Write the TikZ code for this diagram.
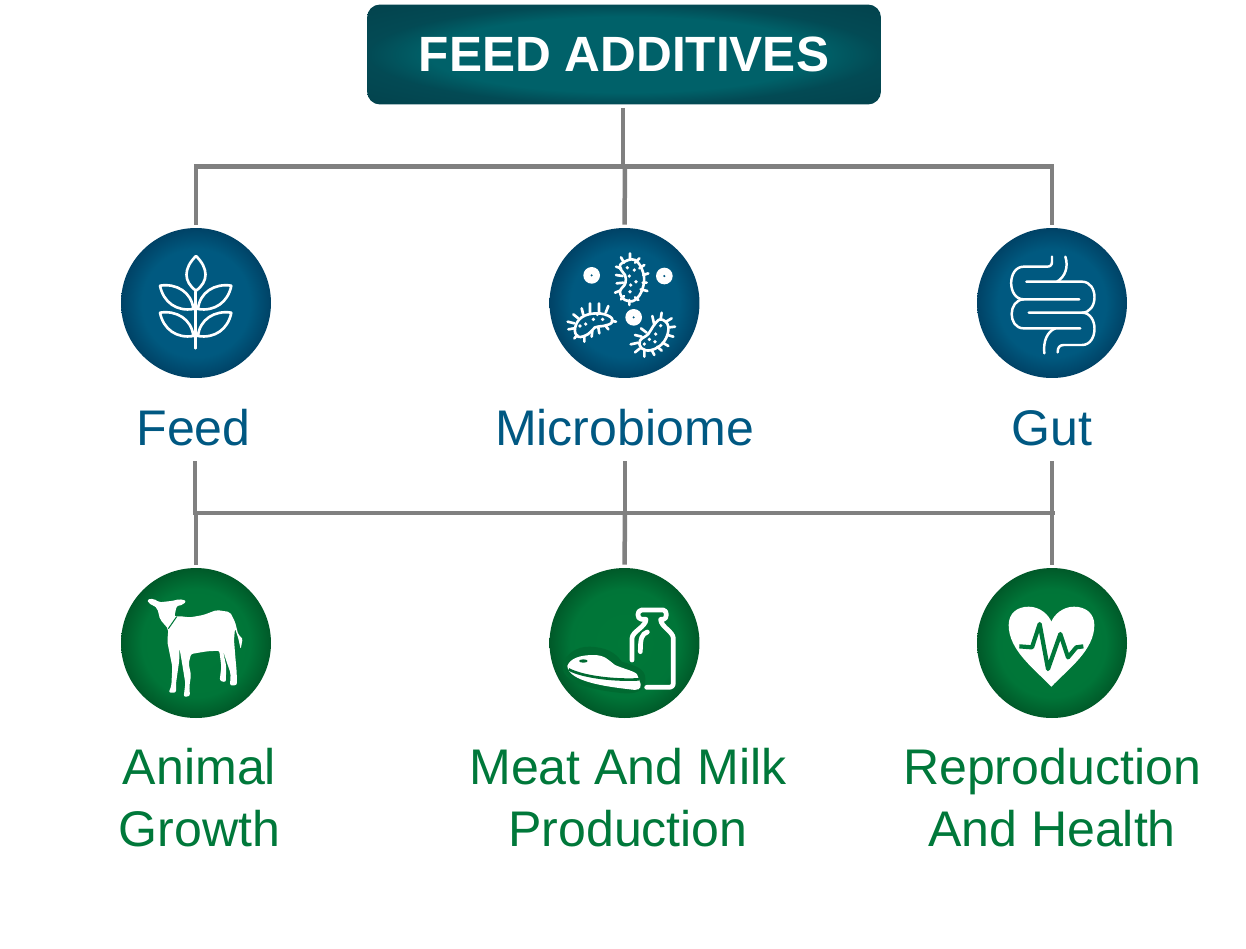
\documentclass[tikz,border=0pt]{standalone}
\usepackage{fontspec}
\setmainfont{Liberation Sans}
\definecolor{bluetext}{RGB}{0,88,130}
\definecolor{greentext}{RGB}{0,120,58}
\definecolor{branchgrey}{RGB}{128,128,128}
\definecolor{meathalo}{RGB}{0,106,49}
\pgfdeclareradialshading{bluedisc}{\pgfpoint{0bp}{0bp}}{rgb(0bp)=(0,.35,.5);rgb(18bp)=(0,.35,.5);rgb(25bp)=(0,.26,.4);rgb(50bp)=(0,.26,.4)}
\pgfdeclareradialshading{greendisc}{\pgfpoint{0bp}{0bp}}{rgb(0bp)=(0,.47,.22);rgb(18bp)=(0,.46,.22);rgb(25bp)=(0,.35,.16);rgb(50bp)=(0,.35,.16)}
\pgfdeclareradialshading{tealbox}{\pgfpoint{0bp}{0bp}}{rgb(0bp)=(0,.38,.41);rgb(19bp)=(0,.38,.41);rgb(25bp)=(.01,.29,.33);rgb(36bp)=(.01,.26,.3);rgb(50bp)=(.01,.26,.3)}
\tikzset{
    branch/.style={line width=0.09cm, branchgrey},
    titlebox/.style={rounded corners=0.26cm, shading=tealbox, minimum width=10.28cm, minimum height=2cm, inner sep=0, text=white, font=\fontsize{28.2}{33}\selectfont\bfseries},
    bluehub/.style={circle, shading=bluedisc, minimum size=3cm, inner sep=0},
    greenhub/.style={circle, shading=greendisc, minimum size=3cm, inner sep=0},
    bluelabel/.style={text=bluetext, inner sep=0, font=\fontsize{28.5}{35.3}\selectfont},
    greenlabel/.style={text=greentext, inner sep=0, align=center, font=\fontsize{28.5}{35.3}\selectfont},
    icon/.style={draw=white, line width=1.5pt, line cap=round, line join=round},
    thinicon/.style={draw=white, line width=1.4pt, line cap=round, line join=round},
}
\begin{document}
\begin{tikzpicture}[x=0.02cm, y=-0.02cm]
    \useasboundingbox (0,0) rectangle (1246,948);

    \node[titlebox] (additives) at (624,54.5) {FEED ADDITIVES};

    \node[bluehub] (feeddisc) at (196,303) {};
    \node[bluehub] (microbiomedisc) at (624.5,303) {};
    \node[bluehub] (gutdisc) at (1052,303) {};
    \node[greenhub] (growthdisc) at (196,643) {};
    \node[greenhub] (productiondisc) at (624.5,643) {};
    \node[greenhub] (healthdisc) at (1052,643) {};

    \node[bluelabel] (feedlabel) at (193.5,428) {Feed};
    \node[bluelabel] (microbiomelabel) at (624.5,428) {Microbiome};
    \node[bluelabel] (gutlabel) at (1052,428) {Gut};
    \node[greenlabel] (growthlabel) at (199.5,798) {Animal\\Growth};
    \node[greenlabel] (productionlabel) at (628,798) {Meat And Milk\\Production};
    \node[greenlabel] (healthlabel) at (1052,798) {Reproduction\\And Health};

    % upper tree
    \coordinate (topleft) at (196,166.5);
    \coordinate (topright) at (1052,166.5);
    \draw[branch] ([xshift=-0.045cm]topleft) -- ([xshift=0.045cm]topright);
    \draw[branch, shorten <=0.06cm] (additives.south -| 623,0) -- (623,166);
    \draw[branch, shorten >=0.06cm] (625,166) -- (microbiomedisc.north);
    \draw[branch, shorten >=0.06cm] (topleft) -- (feeddisc.north);
    \draw[branch, shorten >=0.06cm] (topright) -- (gutdisc.north);

    % lower tree
    \coordinate (lowleft) at (195,513);
    \coordinate (lowright) at (1053,513);
    \draw[branch] ([xshift=-0.045cm]lowleft) -- ([xshift=0.045cm]lowright);
    \draw[branch] (195,461) -- (lowleft);
    \draw[branch] (1052,461) -- (1052,513);
    \draw[branch] (625,461) -- (625,513);
    \draw[branch, shorten >=0.06cm] (196,513) -- (growthdisc.north);
    \draw[branch, shorten >=0.06cm] (625,513) -- (productiondisc.north);
    \draw[branch, shorten >=0.06cm] (1052,513) -- (healthdisc.north);

    % feed icon
    \begin{scope}[shift={(110,220)}, scale=1/3]
        \draw[icon] (258,108) .. controls (220,145) and (220,185) .. (258,212) .. controls (296,185) and (296,145) .. (258,108);
        \draw[icon] (257,215) -- (257,385);
        \foreach \y in {197,278} {
            \draw[icon] (150,\y) .. controls (200,\y-8) and (245,\y+20) .. (250,\y+70) .. controls (200,\y+78) and (160,\y+50) .. (150,\y);
            \draw[icon] (364,\y) .. controls (314,\y-8) and (269,\y+20) .. (264,\y+70) .. controls (314,\y+78) and (354,\y+50) .. (364,\y);
        }
    \end{scope}

    % microbiome icon
    \begin{scope}[shift={(540,220)}, scale=1/3]
        \foreach \x/\y in {155/166,373/168,281/292} {
            \fill[white] (\x,\y) circle (25);
            \fill[bluetext] (\x,\y) circle (3.5);
        }
        \draw[icon] plot[smooth cycle, tension=.7] coordinates {(248,128) (285,120) (310,160) (308,205) (285,240) (255,240) (240,215) (256,190) (255,165) (240,145)};
        \draw[icon] (270,100)--(270,118) (298,115)--(285,128) (313,135)--(298,145) (325,160)--(310,165) (320,188)--(308,188) (322,213)--(302,208) (295,240)--(285,232) (268,255)--(268,240) (243,238)--(252,228) (225,218)--(240,212) (230,190)--(250,188) (228,165)--(248,168) (228,140)--(243,145) (243,112)--(252,128);
        \draw[icon] plot[smooth cycle, tension=.7] coordinates {(105,325) (125,292) (170,280) (210,290) (215,308) (190,318) (165,322) (145,342) (115,350)};
        \draw[icon] (125,265)--(130,285) (150,250)--(150,278) (177,250)--(177,275) (205,258)--(197,278) (228,305)--(215,303) (205,328)--(197,318) (178,340)--(175,322) (155,350)--(157,332) (133,365)--(133,350) (103,355)--(112,345) (85,328)--(102,325) (83,305)--(103,310) (100,283)--(115,295);
        \draw[icon] plot[smooth cycle, tension=.7] coordinates {(300,362) (325,342) (340,318) (362,298) (385,320) (372,365) (335,390) (305,385)};
        \draw[icon] (272,373)--(295,368) (285,345)--(305,350) (303,325)--(320,338) (337,288)--(343,315) (365,278)--(362,298) (395,295)--(378,305) (405,320)--(388,322) (400,350)--(383,345) (385,378)--(368,368) (365,392)--(352,380) (343,405)--(335,390) (313,410)--(313,392) (285,397)--(300,385);
        \foreach \x/\y in {262/143,283/150,268/168,288/185,272/195,270/215,120/318,137/312,160/298,172/283,188/298,362/317,347/342,328/358,313/372,345/365} {
            \fill[white] (\x,\y) circle (5.5);
        }
    \end{scope}

    % gut icon
    \begin{scope}[shift={(967,220)}, scale=1/3]
        \draw[thinicon] (255,110) -- (255,125) .. controls (255,135) and (250,140) .. (240,140) -- (170,140) .. controls (120,140) and (120,238) .. (170,238) -- (337,238);
        \draw[thinicon] (295,110) .. controls (305,140) and (295,170) .. (270,185);
        \draw[thinicon] (178,185) -- (345,185) .. controls (395,185) and (395,278) .. (345,278) -- (185,278);
        \draw[thinicon] (345,278) .. controls (395,278) and (395,375) .. (345,375) -- (290,375) .. controls (278,375) and (272,382) .. (272,397);
        \draw[thinicon] (170,238) .. controls (122,240) and (122,325) .. (170,325) -- (340,325);
        \draw[thinicon] (232,400) .. controls (228,365) and (240,335) .. (265,325);
    \end{scope}

    % growth icon
    \begin{scope}[shift={(110,560)}, scale=1/3]
        \fill[white, rounded corners=1.2pt] (112,118) -- (132,116) -- (147,127) -- (192,122) -- (207,117) -- (229,122) -- (220,134) -- (200,138) -- (193,170) -- (205,168) -- (240,172) -- (280,165) -- (320,150) -- (360,156) -- (375,185) -- (385,225) -- (398,235) -- (392,268) -- (385,235) -- (375,205) -- (372,240) -- (376,290) -- (380,335) -- (381,375) -- (360,377) -- (362,340) -- (348,300) -- (338,268) -- (349,320) -- (347,367) -- (329,362) -- (334,320) -- (328,272) -- (290,274) -- (243,282) -- (236,310) -- (243,345) -- (238,380) -- (240,408) -- (221,411) -- (226,370) -- (218,320) -- (208,262) -- (208,300) -- (198,370) -- (198,398) -- (176,398) -- (184,378) -- (187,320) -- (172,245) -- (175,207) -- (150,178) -- (142,145) -- (130,136) -- (115,130) -- cycle;
        \draw[greentext, line width=0.6pt] (175,206) -- (200,170);
    \end{scope}

    % production icon
    \begin{scope}[shift={(540,560)}, scale=1/3]
        \draw[white, line width=2.7pt, line join=round, line cap=round] (320,382) -- (385,382) .. controls (395,382) and (400,378) .. (400,368) -- (400,235) .. controls (400,215) and (362,200) .. (362,178) -- (370,178) .. controls (382,178) and (382,150) .. (370,150) -- (305,150) .. controls (290,150) and (290,178) .. (305,178) -- (318,178) .. controls (318,200) and (276,215) .. (276,235) -- (276,300);
        \draw[white, line width=2.7pt, line cap=round] (322,216) .. controls (305,222) and (301,235) .. (301,275);
        \fill[meathalo] (68,322) .. controls (70,285) and (110,258) .. (150,260) .. controls (195,262) and (225,275) .. (245,305) .. controls (280,315) and (320,325) .. (316,360) .. controls (315,395) and (285,405) .. (235,398) .. controls (180,392) and (70,375) .. (68,322);
        \fill[white] (82,318) .. controls (90,295) and (120,285) .. (160,285) .. controls (195,285) and (205,300) .. (225,315) .. controls (255,328) and (290,335) .. (292,345) -- (302,372) .. controls (303,388) and (295,392) .. (270,388) .. controls (200,380) and (85,365) .. (82,318);
        \draw[meathalo, line width=1.5pt] (86,328) .. controls (130,352) and (230,362) .. (297,358);
        \fill[meathalo] (130,303) ellipse (13 and 5);
    \end{scope}

    % health icon
    \begin{scope}[shift={(967,560)}, scale=1/3]
        \fill[white] (253,380) .. controls (200,325) and (125,270) .. (125,195) .. controls (125,160) and (150,140) .. (185,140) .. controls (220,140) and (245,165) .. (253,185) .. controls (261,165) and (286,140) .. (321,140) .. controls (356,140) and (382,160) .. (382,195) .. controls (382,270) and (306,325) .. (253,380) -- cycle;
        \draw[greentext, line width=2.4pt, line join=round] (157,259) -- (195,262) -- (218,192) -- (243,327) -- (280,222) -- (303,292) -- (328,262) -- (349,259);
    \end{scope}
\end{tikzpicture}
\end{document}
